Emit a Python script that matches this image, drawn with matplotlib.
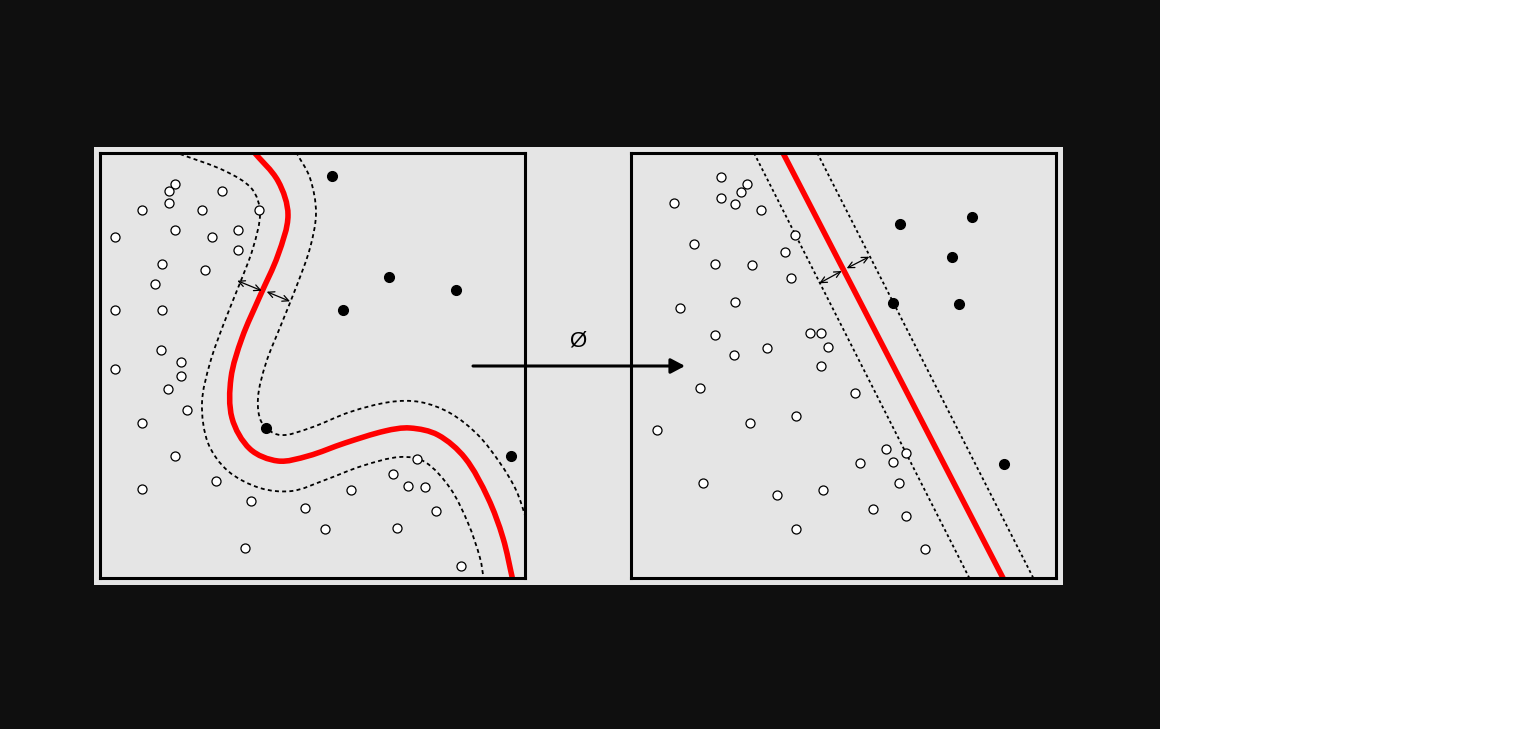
import numpy as np
import matplotlib
matplotlib.use("Agg")
import matplotlib.pyplot as plt
from matplotlib.patches import Rectangle, PathPatch
from matplotlib.path import Path

# ---- data (box-local pixel units, 0..425, y downward) ----
left_open_x = [75.3, 68.7, 122, 68.7, 42.3, 101.7, 159.3, 15.3, 75.3, 111.7, 138.3, 138.3, 62.3,
               105.3, 55, 15.3, 62.3, 61, 80.7, 15.3, 80.7, 67.7, 87.3, 42, 75.3, 42, 116, 151.3,
               204.7, 224.7, 144.7, 251.3, 292.7, 316.7, 307.7, 324.7, 336, 297.3, 361.3]
left_open_y = [30.7, 37.7, 38.3, 50.3, 57.3, 57.3, 57.3, 84, 77.3, 84.3, 77, 97.3, 110.7,
               117, 130.7, 156.7, 156.7, 197, 209.3, 216.3, 223.3, 236.3, 256.7, 269.7, 303, 336, 328, 348.3,
               354.7, 376.3, 395, 337, 321.3, 305.7, 332.7, 334.3, 358.3, 375, 412.7]
left_fill_x = [232, 289, 355.7, 242.7, 166, 410.7]
left_fill_y = [23, 124, 137, 157.3, 274.7, 303.3]

right_open_x = [89.7, 116.3, 109.7, 43.3, 89.7, 103.7, 129.7, 163.7, 63.3, 153.7, 83.7, 121, 160,
                103.7, 49.3, 178.7, 190, 84.3, 197, 136, 102.7, 190, 69.3, 224, 165.3, 119.3, 26,
                255, 275, 229, 261.7, 72, 268.3, 192, 146.3, 242.3, 275, 165.3, 294.3]
right_open_y = [24.3, 31.3, 38.7, 50.3, 45, 50.7, 57.3, 82, 90.7, 99, 111, 112, 125.3,
                148.7, 155.3, 179.7, 179.7, 182.3, 193.7, 194.7, 201.7, 213.3, 234.7, 240.3, 263.3, 270.3, 277.3,
                296, 299.7, 310.3, 309.3, 330, 330, 337, 342.3, 356, 363.3, 376, 396]
right_fill_x = [268.7, 341.3, 321.3, 261.7, 328, 372.7]
right_fill_y = [70.7, 64, 104, 149.7, 150.7, 310.7]

# nonlinear boundary (left box)
red_curve = [(153, -2), (178, 28), (188, 62), (178, 102), (160, 143), (142, 185), (131, 225),
             (132, 265), (150, 296), (178, 308), (208, 303), (245, 290), (285, 278), (310, 275),
             (338, 282), (365, 305), (388, 345), (403, 385), (413, 428)]
inner_curve = [(80, 1), (125, 18), (152, 36), (160, 60), (153, 95), (140, 130), (124, 170),
               (110, 210), (102, 250), (108, 290), (128, 318), (160, 335), (192, 338), (225, 327),
               (262, 313), (300, 304), (325, 309), (350, 335), (368, 370), (380, 405), (384, 428)]
outer_curve = [(196, -1), (210, 25), (216, 60), (210, 95), (197, 132), (181, 172), (166, 210),
               (158, 245), (162, 270), (180, 282), (210, 275), (250, 259), (290, 249), (320, 249),
               (350, 260), (378, 282), (400, 310), (416, 337), (427, 368)]
left_margins = [((137.3, 127.7), (161.7, 137.7)), ((166.7, 138.7), (190, 148.3))]

# linear boundary (right box)
red_line = [(152, 0), (372, 425)]
dash_left = [(123, 0), (338.3, 425)]
dash_right = [(186.3, 0), (402.3, 425)]
right_margins = [((188.3, 130.3), (210.7, 118)), ((215.7, 115.3), (238.3, 103.7))]

map_label = "Ø"

W, H = 1536, 729
fig = plt.figure(figsize=(W / 100, H / 100), dpi=100)
fig.patch.set_facecolor("white")
fig.patches.append(Rectangle((0, 0), 1160 / W, 1, transform=fig.transFigure,
                             facecolor="#0f0f0f", edgecolor="none", zorder=-2))
fig.patches.append(Rectangle((94 / W, (H - 585) / H), (1063 - 94) / W, (585 - 147) / H,
                             transform=fig.transFigure, facecolor="#e5e5e5",
                             edgecolor="none", zorder=-1))


def smooth_path(pts):
    # chord-length Hermite spline through the read points, as cubic Bezier segments
    p = np.array(pts, dtype=float)
    d = np.linalg.norm(np.diff(p, axis=0), axis=1)
    t = np.concatenate([[0], np.cumsum(d)])
    m = np.zeros_like(p)
    m[0] = (p[1] - p[0]) / d[0]
    m[-1] = (p[-1] - p[-2]) / d[-1]
    m[1:-1] = (p[2:] - p[:-2]) / (t[2:] - t[:-2])[:, None]
    verts = [tuple(p[0])]
    codes = [Path.MOVETO]
    for i in range(len(p) - 1):
        c1 = p[i] + m[i] * d[i] / 3
        c2 = p[i + 1] - m[i + 1] * d[i] / 3
        verts += [tuple(c1), tuple(c2), tuple(p[i + 1])]
        codes += [Path.CURVE4] * 3
    return Path(verts, codes)


def make_box(x0):
    ax = fig.add_axes([x0 / W, (H - 578) / H, 425 / W, 425 / H])
    ax.set_facecolor("#e5e5e5")
    ax.set_xlim(0, 425)
    ax.set_ylim(425, 0)
    ax.set_xticks([])
    ax.set_yticks([])
    for s in ax.spines.values():
        s.set_linewidth(2.2)
        s.set_color("black")
        s.set_zorder(10)
    return ax


def draw_points(ax, ox, oy, fx, fy):
    ax.plot(ox, oy, "o", ms=6.5, mfc="white", mec="black", mew=0.9, zorder=5)
    ax.plot(fx, fy, "o", ms=7, mfc="black", mec="black", zorder=5)


def margin_arrows(ax, arrows):
    for a, b in arrows:
        ax.annotate("", xy=b, xytext=a,
                    arrowprops=dict(arrowstyle="<->,head_length=0.45,head_width=0.22",
                                    lw=0.9, color="black", shrinkA=0, shrinkB=0), zorder=6)


# left box
axL = make_box(100)
axL.add_patch(PathPatch(smooth_path(red_curve), fill=False, ec="red", lw=4, zorder=3,
                        capstyle="butt"))
for c in (inner_curve, outer_curve):
    axL.add_patch(PathPatch(smooth_path(c), fill=False, ec="black", lw=1.3,
                            ls=(0, (2.2, 1.8)), zorder=3))
draw_points(axL, left_open_x, left_open_y, left_fill_x, left_fill_y)
margin_arrows(axL, left_margins)

# right box
axR = make_box(631)
axR.plot(*zip(*red_line), color="red", lw=4, zorder=3)
for d in (dash_left, dash_right):
    axR.plot(*zip(*d), color="black", lw=1.3, ls=(0, (1.6, 1.6)), zorder=3)
draw_points(axR, right_open_x, right_open_y, right_fill_x, right_fill_y)
margin_arrows(axR, right_margins)

# overlay: mapping arrow
ov = fig.add_axes([0, 0, 1, 1], zorder=20)
ov.set_xlim(0, W)
ov.set_ylim(H, 0)
ov.axis("off")
ov.patch.set_alpha(0)
ov.annotate("", xy=(685, 366), xytext=(473, 366),
            arrowprops=dict(arrowstyle="-|>,head_length=0.85,head_width=0.45",
                            lw=2.2, color="black", shrinkA=0, shrinkB=0))
ov.text(578, 341, map_label, ha="center", va="center", fontsize=16,
        family="Liberation Sans", color="black")

fig.savefig("out.png", dpi=100, facecolor=fig.get_facecolor())
